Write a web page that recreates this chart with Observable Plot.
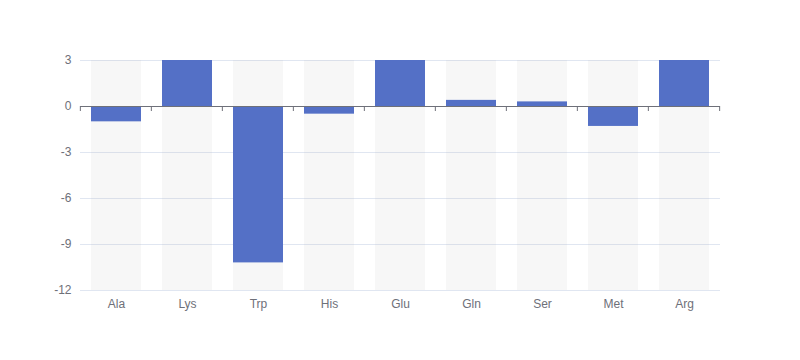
<!DOCTYPE html>
<html><head><meta charset="utf-8">
<script src="https://cdn.jsdelivr.net/npm/d3@7"></script>
<script src="https://cdn.jsdelivr.net/npm/@observablehq/plot@0.6"></script>
<style>body{margin:0;background:#fff}</style>
</head><body><div id="chart"></div>
<script>
const categories = ["Ala","Lys","Trp","His","Glu","Gln","Ser","Met","Arg"];
const values = [-1, 3, -10.2, -0.5, 3, 0.4, 0.3, -1.3, 3];
const yTicks = [-12, -9, -6, -3, 0, 3];
const yDomain = [-12, 3];

const data = categories.map((c, i) => ({cat: c, v: values[i]}));

const plot = Plot.plot({
  width: 800, height: 360,
  marginLeft: 80, marginRight: 80, marginTop: 60, marginBottom: 70,
  style: {fontFamily: "sans-serif", fontSize: "12px", color: "#6E7079", background: "#fff"},
  x: {domain: categories, paddingInner: 0.3, paddingOuter: 0.15, label: null},
  y: {domain: yDomain, ticks: yTicks, label: null},
  marks: [
    Plot.ruleY(yTicks.filter(t => t !== 0), {stroke: "#E0E6F1", strokeWidth: 1}),
    Plot.barY(categories, {x: d => d, y1: yDomain[0], y2: yDomain[1], fill: "#B4B4B4", fillOpacity: 0.1}),
    Plot.barY(data, {x: "cat", y: "v", fill: "#5470C6"}),
    Plot.ruleY([0], {stroke: "#6E7079", strokeWidth: 1}),
    Plot.axisY({ticks: yTicks, tickSize: 0, tickPadding: 9, tickFormat: d => String(d), fill: "#6E7079", fontSize: 12}),
    Plot.axisX({tickSize: 0, tickPadding: 9, fill: "#6E7079", fontSize: 12})
  ]
});

// boundary ticks on the zero axis line
const xs = plot.scale("x");
const ys = plot.scale("y");
const step = xs.step;
const half = step * xs.paddingInner / 2;
const bounds = categories.map(c => xs.apply(c) - half);
bounds.push(xs.apply(categories[categories.length - 1]) + xs.bandwidth + half);
const y0 = ys.apply(0);
d3.select(plot).append("g")
  .selectAll("line").data(bounds).join("line")
  .attr("x1", d => d).attr("x2", d => d)
  .attr("y1", y0).attr("y2", y0 + 5)
  .attr("stroke", "#6E7079").attr("stroke-width", 1);

document.getElementById("chart").appendChild(plot);
</script>
</body></html>
